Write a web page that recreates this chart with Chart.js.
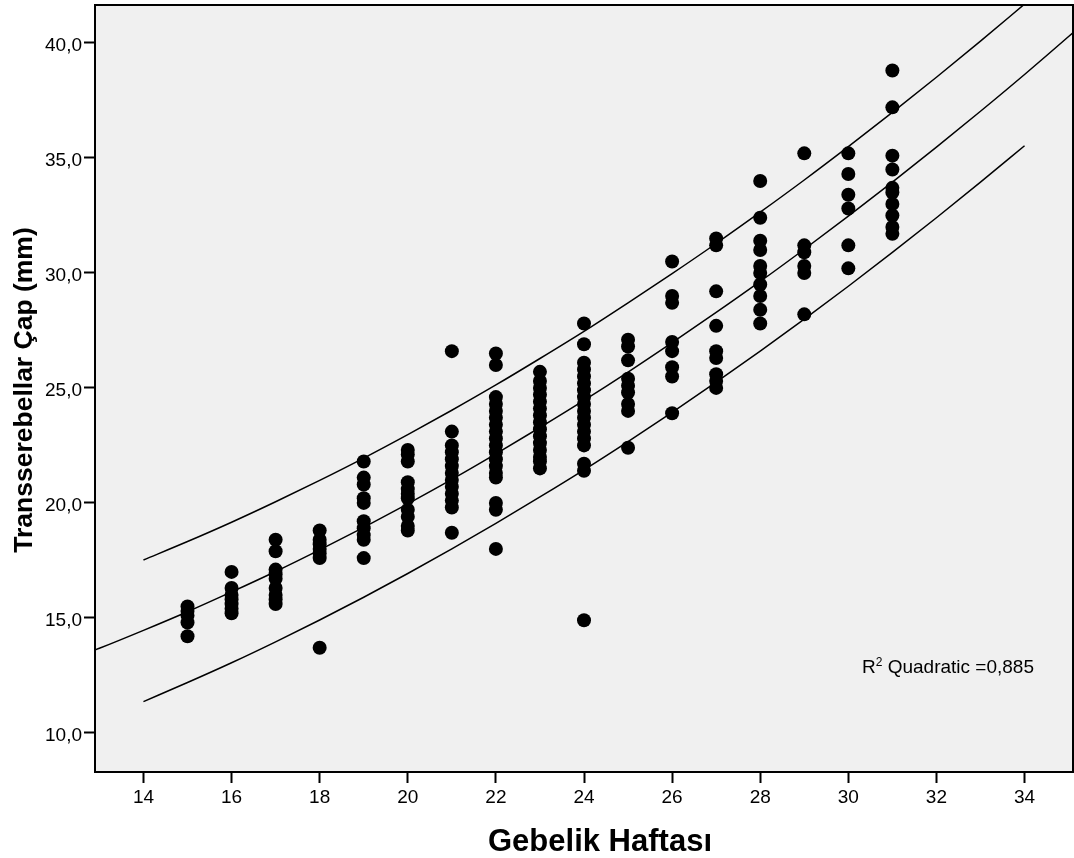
<!DOCTYPE html>
<html>
<head>
<meta charset="utf-8">
<script src="https://cdn.jsdelivr.net/npm/chart.js@4/dist/chart.umd.min.js"></script>
<style>
  html, body { margin: 0; padding: 0; background: #ffffff; }
  #wrap { width: 1074px; height: 858px; }
</style>
</head>
<body>
<div id="wrap"><canvas id="c" width="1074" height="858"></canvas></div>
<script>
// ---- Data ----
const xTitle = 'Gebelik Haftası';
const yTitle = 'Transserebellar Çap (mm)';
const fitLabel = 'Quadratic =0,885';

const xTicks = [14, 16, 18, 20, 22, 24, 26, 28, 30, 32, 34];
const yTicks = [10, 15, 20, 25, 30, 35, 40];

const weeks = [15, 16, 17, 18, 19, 20, 21, 22, 23, 24, 25, 26, 27, 28, 29, 30, 31];
const w15 = [15.5, 15.3, 15.1, 14.8, 14.2];
const w16 = [17.0, 16.3, 16.0, 15.8, 15.6, 15.4, 15.2];
const w17 = [18.4, 17.9, 17.1, 16.9, 16.7, 16.3, 16.0, 15.8, 15.6];
const w18 = [18.8, 18.4, 18.2, 18.0, 17.8, 17.6, 13.7];
const w19 = [21.8, 21.1, 20.8, 20.2, 20.0, 19.2, 18.9, 18.6, 18.4, 17.6];
const w20 = [22.3, 22.1, 21.8, 20.9, 20.6, 20.4, 20.2, 19.7, 19.4, 19.0, 18.8];
const w21 = [26.6, 23.1, 22.5, 22.2, 21.9, 21.6, 21.3, 21.0, 20.7, 20.4, 20.1, 19.8, 18.7];
const w22 = [26.5, 26.0, 24.6, 24.3, 24.0, 23.7, 23.4, 23.1, 22.8, 22.5, 22.2, 21.9, 21.6, 21.3, 21.1, 20.0, 19.7, 18.0];
const w23 = [25.7, 25.3, 25.0, 24.7, 24.4, 24.1, 23.8, 23.5, 23.2, 22.9, 22.6, 22.3, 22.0, 21.8, 21.5];
const w24 = [27.8, 26.9, 26.1, 25.8, 25.5, 25.2, 24.9, 24.6, 24.3, 24.0, 23.7, 23.4, 23.1, 22.8, 22.5, 21.7, 21.4, 14.9];
const w25 = [27.1, 26.8, 26.2, 25.4, 25.1, 24.8, 24.3, 24.0, 22.4];
const w26 = [30.5, 29.0, 28.7, 27.0, 26.6, 25.9, 25.5, 23.9];
const w27 = [31.5, 31.2, 29.2, 27.7, 26.6, 26.3, 25.6, 25.3, 25.0];
const w28 = [34.0, 32.4, 31.4, 31.0, 30.3, 30.0, 29.5, 29.0, 28.4, 27.8];
const w29 = [35.2, 31.2, 30.9, 30.3, 30.0, 28.2];
const w30 = [35.2, 34.3, 33.4, 32.8, 31.2, 30.2];
const w31 = [38.8, 37.2, 35.1, 34.5, 33.7, 33.5, 33.0, 32.5, 32.0, 31.7];
const valuesByWeek = [w15, w16, w17, w18, w19, w20, w21, w22, w23, w24, w25, w26, w27, w28, w29, w30, w31];

// Fitted quadratic curve, read at whole weeks
const fitWeeks = [12, 13, 14, 15, 16, 17, 18, 19, 20, 21, 22, 23, 24, 25, 26, 27, 28, 29, 30, 31, 32, 33, 34, 35, 36];
const fitValues = [12.95, 13.68, 14.46, 15.27, 16.13, 17.02, 17.96, 18.94, 19.96, 21.02, 22.13, 23.28, 24.46, 25.69, 26.97, 28.28, 29.63, 31.03, 32.47, 33.95, 35.47, 37.03, 38.63, 40.28, 41.97];

// Interval lines, read at whole weeks
const bandWeeks = [14, 15, 16, 17, 18, 19, 20, 21, 22, 23, 24, 25, 26, 27, 28, 29, 30, 31, 32, 33, 34];
const upperValues = [17.52, 18.32, 19.16, 20.05, 20.98, 21.95, 22.97, 24.03, 25.13, 26.28, 27.46, 28.70, 29.97, 31.28, 32.64, 34.04, 35.49, 36.98, 38.51, 40.08, 41.69];
const lowerValues = [11.36, 12.19, 13.05, 13.96, 14.91, 15.90, 16.93, 18.00, 19.11, 20.26, 21.44, 22.67, 23.94, 25.25, 26.60, 27.99, 29.42, 30.89, 32.40, 33.95, 35.53];

// ---- Build datasets ----
const scatterPoints = [];
weeks.forEach((w, i) => valuesByWeek[i].forEach(v => scatterPoints.push({ x: w, y: v })));
const toXY = (xs, ys) => xs.map((x, i) => ({ x: x, y: ys[i] }));

const FONT = "'Liberation Sans', Arial, Helvetica, sans-serif";

const lineStyle = {
  showLine: true,
  pointRadius: 0,
  pointHoverRadius: 0,
  borderColor: '#000000',
  borderWidth: 1.5,
  cubicInterpolationMode: 'monotone',
  fill: false
};

const bgPlugin = {
  id: 'bg',
  beforeDraw(chart) {
    const { ctx, chartArea: a } = chart;
    ctx.save();
    ctx.fillStyle = '#f0f0f0';
    ctx.fillRect(a.left, a.top, a.right - a.left, a.bottom - a.top);
    ctx.restore();
  }
};

const framePlugin = {
  id: 'frame',
  afterDraw(chart) {
    const { ctx, chartArea: a } = chart;
    ctx.save();
    ctx.strokeStyle = '#000000';
    ctx.lineWidth = 2;
    ctx.strokeRect(a.left, a.top, a.right - a.left, a.bottom - a.top);

    // axis titles
    ctx.fillStyle = '#000000';
    ctx.textAlign = 'center';
    ctx.textBaseline = 'alphabetic';
    ctx.font = 'bold 31px ' + FONT;
    ctx.fillText(xTitle, 600, 851);

    ctx.save();
    ctx.font = 'bold 26.5px ' + FONT;
    ctx.translate(32, 390);
    ctx.rotate(-Math.PI / 2);
    ctx.fillText(yTitle, 0, 0);
    ctx.restore();

    // R² annotation
    ctx.textAlign = 'left';
    ctx.textBaseline = 'alphabetic';
    const bx = 862, by = 673;
    ctx.font = '19px ' + FONT;
    ctx.fillText('R', bx, by);
    const rw = ctx.measureText('R').width;
    ctx.font = '12px ' + FONT;
    ctx.fillText('2', bx + rw, by - 7);
    const sw = ctx.measureText('2').width;
    ctx.font = '19px ' + FONT;
    ctx.fillText(' ' + fitLabel, bx + rw + sw, by);
    ctx.restore();
  }
};

new Chart(document.getElementById('c'), {
  type: 'scatter',
  data: {
    datasets: [
      Object.assign({ label: 'fit', data: toXY(fitWeeks, fitValues), order: 2 }, lineStyle),
      Object.assign({ label: 'upper', data: toXY(bandWeeks, upperValues), order: 2 }, lineStyle),
      Object.assign({ label: 'lower', data: toXY(bandWeeks, lowerValues), order: 2 }, lineStyle),
      {
        label: 'TCD',
        data: scatterPoints,
        order: 1,
        pointRadius: 7,
        pointHoverRadius: 7,
        pointBackgroundColor: '#000000',
        pointBorderColor: '#000000',
        pointBorderWidth: 0,
        showLine: false
      }
    ]
  },
  options: {
    responsive: false,
    devicePixelRatio: 1,
    animation: false,
    events: [],
    layout: { autoPadding: false, padding: { top: 5, right: 1, left: 0, bottom: 0 } },
    plugins: {
      legend: { display: false },
      tooltip: { enabled: false },
      title: { display: false }
    },
    scales: {
      x: {
        type: 'linear',
        min: 12.9,
        max: 35.1,
        afterFit(scale) {
          scale.height = 86;
          scale.paddingLeft = 0; scale.paddingRight = 0;
          scale.paddingTop = 0; scale.paddingBottom = 0;
        },
        afterBuildTicks(scale) { scale.ticks = xTicks.map(v => ({ value: v })); },
        grid: { drawOnChartArea: false, drawTicks: true, tickLength: 11, tickWidth: 2, tickColor: '#000000' },
        border: { display: true, color: '#000000', width: 2 },
        ticks: {
          color: '#000000',
          font: { family: FONT, size: 19 },
          padding: 3,
          maxRotation: 0,
          autoSkip: false,
          callback: v => String(v)
        }
      },
      y: {
        type: 'linear',
        min: 8.3,
        max: 41.65,
        afterFit(scale) {
          scale.width = 95;
          scale.paddingLeft = 0; scale.paddingRight = 0;
          scale.paddingTop = 0; scale.paddingBottom = 0;
        },
        afterBuildTicks(scale) { scale.ticks = yTicks.map(v => ({ value: v })); },
        grid: { drawOnChartArea: false, drawTicks: true, tickLength: 11, tickWidth: 2, tickColor: '#000000' },
        border: { display: true, color: '#000000', width: 2 },
        ticks: {
          color: '#000000',
          font: { family: FONT, size: 19 },
          padding: 2,
          labelOffset: 3,
          autoSkip: false,
          callback: v => v.toFixed(1).replace('.', ',')
        }
      }
    }
  },
  plugins: [bgPlugin, framePlugin]
});
</script>
</body>
</html>
